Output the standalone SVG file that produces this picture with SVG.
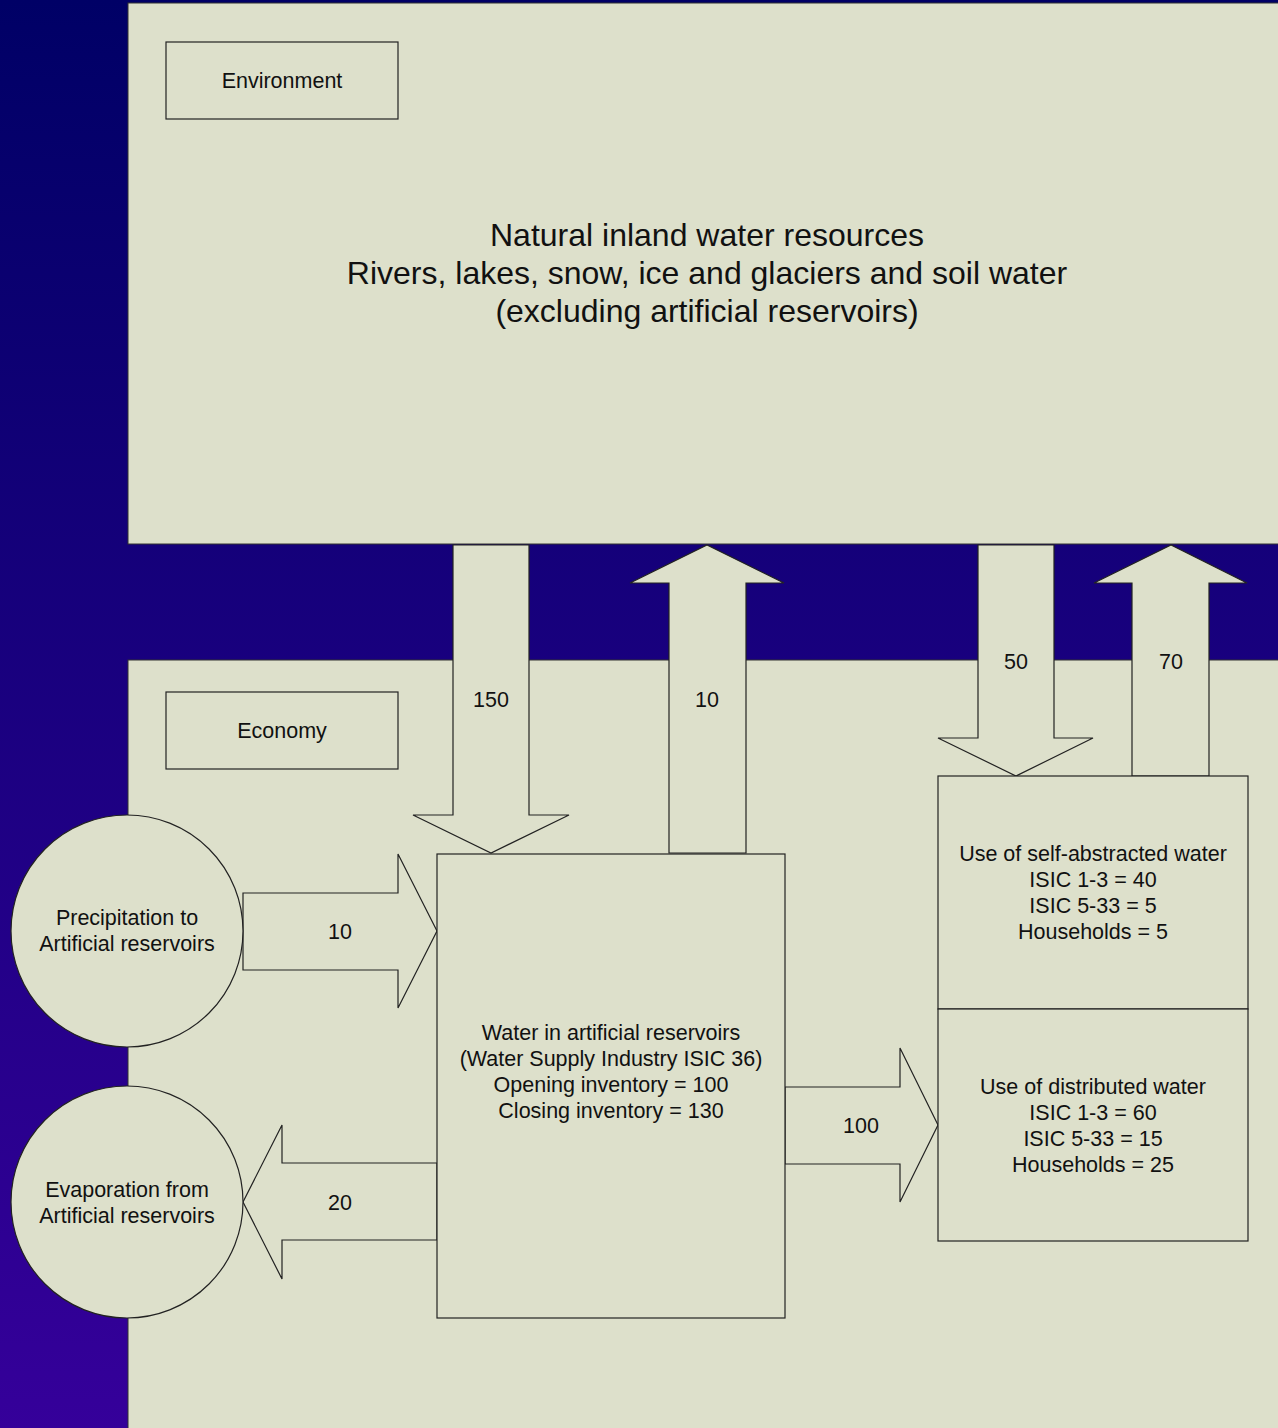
<svg xmlns="http://www.w3.org/2000/svg" width="1278" height="1428" viewBox="0 0 1278 1428">
<defs>
<linearGradient id="bg" x1="0" y1="0" x2="0" y2="1">
<stop offset="0" stop-color="#000066"/>
<stop offset="1" stop-color="#35009a"/>
</linearGradient>
<style>
.panel{fill:#dde0cb;stroke:#333;stroke-width:1}
.box{fill:#dde0cb;stroke:#222;stroke-width:1.2}
.arr{fill:#dde0cb;stroke:#222;stroke-width:1.2;stroke-linejoin:miter}
text{font-family:"Liberation Sans",Arial,sans-serif;fill:#111;text-anchor:middle}
.t{font-size:21.5px}
.big{font-size:32px}
</style>
</defs>
<rect x="0" y="0" width="1278" height="1428" fill="url(#bg)"/>
<g id="environment">
<rect class="panel" x="128" y="3" width="1160" height="541"/>
<rect class="box" x="166" y="42" width="232" height="77"/>
<text class="t" x="282" y="88">Environment</text>
<text class="big" x="707" y="246">Natural inland water resources</text>
<text class="big" x="707" y="284">Rivers, lakes, snow, ice and glaciers and soil water</text>
<text class="big" x="707" y="322">(excluding artificial reservoirs)</text>
</g>
<g id="economy">
<rect class="panel" x="128" y="660" width="1160" height="800"/>
<rect class="box" x="166" y="692" width="232" height="77"/>
<text class="t" x="282" y="738">Economy</text>
</g>
<g id="connectors">
<polygon class="arr" points="453,545 529,545 529,815 569,815 491,853 413,815 453,815"/>
<polygon class="arr" points="669,853 669,583 630,583 707,545 784,583 746,583 746,853"/>
<polygon class="arr" points="978,545 1054,545 1054,738 1093,738 1016,776 938,738 978,738"/>
<polygon class="arr" points="1132,776 1132,583 1094,583 1171,545 1247,583 1209,583 1209,776"/>
<polygon class="arr" points="243,893 398,893 398,854 437,931 398,1008 398,970 243,970"/>
<polygon class="arr" points="437,1163 282,1163 282,1125 243,1202 282,1279 282,1240 437,1240"/>
<polygon class="arr" points="785,1087 900,1087 900,1048 938,1125 900,1202 900,1164 785,1164"/>
<text class="t" x="491" y="707">150</text>
<text class="t" x="707" y="707">10</text>
<text class="t" x="1016" y="669">50</text>
<text class="t" x="1171" y="669">70</text>
<text class="t" x="340" y="939">10</text>
<text class="t" x="340" y="1210">20</text>
<text class="t" x="861" y="1133">100</text>
</g>
<g id="precipitation">
<circle class="box" cx="127" cy="931" r="116"/>
<text class="t" x="127" y="925">Precipitation to</text>
<text class="t" x="127" y="951">Artificial reservoirs</text>
</g>
<g id="evaporation">
<circle class="box" cx="127" cy="1202" r="116"/>
<text class="t" x="127" y="1197">Evaporation from</text>
<text class="t" x="127" y="1223">Artificial reservoirs</text>
</g>
<g id="reservoirs">
<rect class="box" x="437" y="854" width="348" height="464"/>
<text class="t" x="611" y="1040">Water in artificial reservoirs</text>
<text class="t" x="611" y="1066">(Water Supply Industry ISIC 36)</text>
<text class="t" x="611" y="1092">Opening inventory = 100</text>
<text class="t" x="611" y="1118">Closing inventory = 130</text>
</g>
<g id="self-abstracted">
<rect class="box" x="938" y="776" width="310" height="233"/>
<text class="t" x="1093" y="861">Use of self-abstracted water</text>
<text class="t" x="1093" y="887">ISIC 1-3 = 40</text>
<text class="t" x="1093" y="913">ISIC 5-33 = 5</text>
<text class="t" x="1093" y="939">Households = 5</text>
</g>
<g id="distributed">
<rect class="box" x="938" y="1009" width="310" height="232"/>
<text class="t" x="1093" y="1094">Use of distributed water</text>
<text class="t" x="1093" y="1120">ISIC 1-3 = 60</text>
<text class="t" x="1093" y="1146">ISIC 5-33 = 15</text>
<text class="t" x="1093" y="1172">Households = 25</text>
</g>
</svg>
